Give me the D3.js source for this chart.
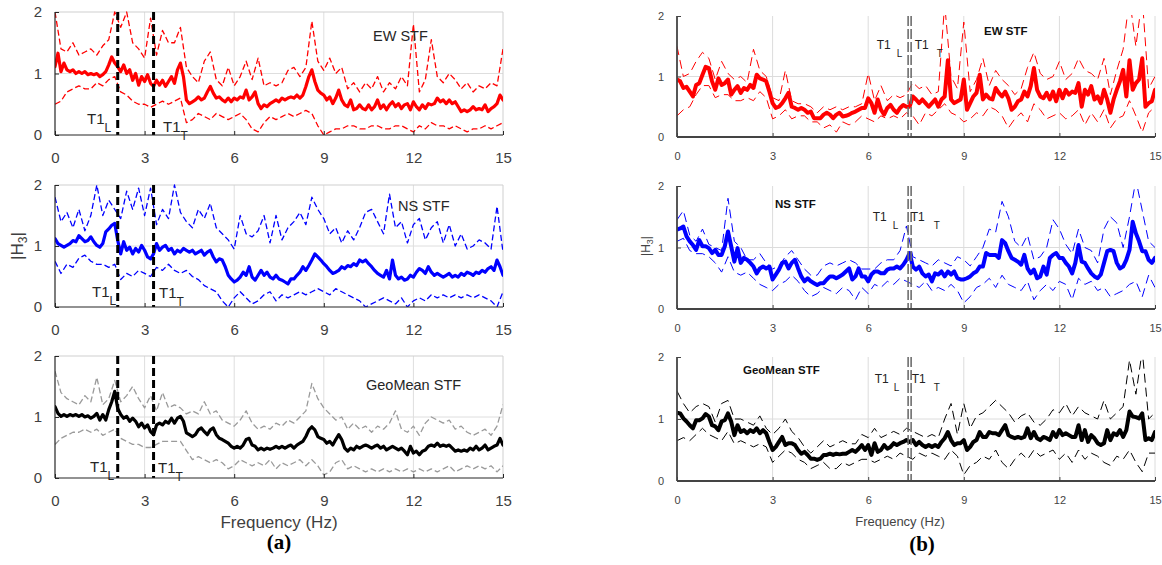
<!DOCTYPE html>
<html><head><meta charset="utf-8">
<script src="https://cdn.jsdelivr.net/npm/d3@7"></script>
<style>body{margin:0;background:#fff}svg{display:block}</style>
</head><body><svg id="c" width="1162" height="565"></svg>
<script>
// ---------- DATA ----------
const fFine = d3.range(151).map(i => +(i * 0.1).toFixed(1));   // 0.1 Hz grid for mean curves
const fCoarse = d3.range(76).map(i => +(i * 0.2).toFixed(1));  // 0.2 Hz grid for bounds
const xTickValues = [0, 3, 6, 9, 12, 15];
const yTickValues = [0, 1, 2];

const ewLeftMean = [1.11,1.33,1.03,1.17,1.06,1.03,1.06,1.00,1.03,1.00,
 1.03,0.98,1.00,0.98,1.00,0.95,0.98,1.03,1.14,1.27,
 1.17,1.11,1.03,1.14,1.00,1.06,0.89,1.00,0.81,0.95,
 0.87,0.98,0.84,0.79,0.89,0.81,0.89,0.79,0.87,0.95,
 0.84,1.06,1.17,0.95,0.57,0.51,0.54,0.57,0.62,0.57,
 0.60,0.70,0.79,0.68,0.60,0.62,0.57,0.54,0.60,0.54,
 0.60,0.57,0.62,0.60,0.73,0.57,0.62,0.70,0.51,0.43,
 0.49,0.46,0.51,0.54,0.57,0.54,0.60,0.57,0.60,0.62,
 0.60,0.65,0.60,0.65,0.79,0.95,1.06,0.87,0.73,0.68,
 0.65,0.57,0.62,0.51,0.60,0.73,0.57,0.49,0.46,0.57,
 0.41,0.43,0.49,0.43,0.41,0.49,0.41,0.46,0.57,0.43,
 0.49,0.41,0.49,0.54,0.46,0.51,0.43,0.49,0.51,0.41,
 0.54,0.46,0.41,0.49,0.43,0.51,0.49,0.51,0.60,0.54,
 0.57,0.51,0.57,0.51,0.54,0.46,0.38,0.41,0.38,0.41,
 0.46,0.41,0.43,0.41,0.49,0.38,0.43,0.46,0.51,0.65,
 0.57];
const ewLeftUp = [2.0,1.4,1.35,1.5,1.3,1.35,1.4,1.3,1.45,1.55,
 2.0,1.75,2.0,1.5,1.4,1.25,1.9,1.3,1.7,1.5,
 1.5,1.75,1.1,0.95,0.85,1.2,1.35,0.9,0.8,1.1,
 0.8,0.95,1.2,0.9,1.25,0.8,0.85,0.8,0.85,1.05,
 1.1,0.95,1.1,1.85,1.2,1.05,1.25,1.0,1.1,0.75,
 0.85,0.7,0.85,0.75,0.95,0.7,0.85,0.75,0.95,0.8,
 1.8,0.7,0.9,1.55,0.95,0.85,1.0,0.9,0.75,0.85,
 0.7,0.8,0.75,0.85,0.8,1.4];
const ewLeftLo = [0.5,0.55,0.7,0.75,0.8,0.75,0.75,0.85,0.8,0.9,
 0.95,0.7,0.65,0.55,0.5,0.5,0.45,0.5,0.55,0.5,
 0.55,0.6,0.2,0.25,0.35,0.3,0.25,0.35,0.3,0.25,
 0.3,0.35,0.25,0.1,0.05,0.2,0.3,0.25,0.3,0.35,
 0.3,0.35,0.4,0.35,0.15,0.0,0.05,0.1,0.1,0.15,
 0.15,0.1,0.1,0.15,0.15,0.1,0.1,0.15,0.15,0.1,
 0.05,0.15,0.1,0.2,0.15,0.15,0.1,0.15,0.1,0.05,
 0.1,0.1,0.15,0.1,0.15,0.2];

const nsLeftMean = [1.12,1.04,1.01,0.98,1.01,1.04,1.09,1.07,1.17,1.12,
 1.07,1.09,1.15,1.07,1.01,0.98,1.04,1.23,1.28,1.34,
 1.37,1.09,0.87,1.07,0.93,0.98,0.87,0.96,0.90,1.01,
 0.93,0.82,0.79,0.87,1.04,0.93,0.98,1.01,0.93,0.96,
 0.87,0.93,0.90,0.96,0.93,0.90,0.93,0.87,0.90,0.93,
 0.85,0.90,0.93,0.82,0.74,0.79,0.77,0.66,0.52,0.46,
 0.41,0.44,0.49,0.57,0.52,0.66,0.49,0.44,0.52,0.60,
 0.52,0.57,0.49,0.46,0.52,0.46,0.44,0.41,0.38,0.46,
 0.46,0.52,0.57,0.66,0.60,0.68,0.77,0.87,0.82,0.77,
 0.71,0.66,0.60,0.55,0.57,0.60,0.66,0.63,0.68,0.66,
 0.71,0.68,0.77,0.74,0.77,0.71,0.66,0.60,0.55,0.52,
 0.49,0.60,0.46,0.77,0.52,0.46,0.49,0.44,0.46,0.52,
 0.49,0.57,0.63,0.60,0.55,0.66,0.57,0.52,0.55,0.52,
 0.49,0.52,0.55,0.49,0.52,0.49,0.55,0.52,0.57,0.55,
 0.52,0.57,0.55,0.60,0.57,0.63,0.66,0.60,0.77,0.66,
 0.52];
const nsLeftUp = [1.8,1.4,1.55,1.3,1.6,1.25,1.5,2.0,1.5,1.75,
 1.6,1.45,1.9,1.6,1.95,1.5,1.95,1.35,1.6,1.45,
 2.0,1.55,1.4,1.3,1.6,1.45,1.7,1.3,1.2,1.1,
 0.95,1.5,1.2,1.15,1.25,1.5,1.05,1.5,1.1,1.3,
 1.4,1.55,1.35,1.8,1.6,1.45,1.2,1.3,1.05,1.25,
 1.1,1.3,1.55,1.6,1.4,1.2,1.85,1.3,1.4,1.05,
 1.35,1.45,1.1,1.3,1.4,1.05,1.35,1.0,1.2,0.95,
 1.0,1.1,1.05,0.95,1.65,0.9];
const nsLeftLo = [0.75,0.55,0.7,0.65,0.8,0.85,0.75,0.7,0.7,0.65,
 0.7,0.45,0.55,0.5,0.6,0.55,0.5,0.65,0.6,0.7,
 0.6,0.55,0.6,0.5,0.45,0.35,0.3,0.25,0.1,0.0,
 0.15,0.25,0.15,0.05,0.1,0.2,0.25,0.1,0.2,0.15,
 0.2,0.25,0.2,0.25,0.3,0.25,0.2,0.3,0.25,0.2,
 0.15,0.1,0.0,0.05,0.1,0.15,0.1,0.05,0.15,0.0,
 0.1,0.15,0.1,0.2,0.15,0.2,0.15,0.2,0.15,0.2,
 0.15,0.2,0.15,0.1,0.0,0.25];

const geoLeftMean = [1.17,1.06,1.01,1.04,1.01,1.04,1.02,1.04,1.01,1.04,
 1.00,1.02,0.98,1.01,1.06,0.95,1.04,0.95,1.12,1.25,
 1.42,1.14,1.04,0.98,1.01,0.93,0.98,0.93,0.84,0.90,
 0.82,0.87,0.76,0.71,0.87,0.90,0.87,0.93,0.90,0.98,
 0.90,0.98,1.01,0.93,0.74,0.71,0.68,0.71,0.79,0.82,
 0.76,0.71,0.79,0.82,0.71,0.65,0.63,0.60,0.57,0.52,
 0.49,0.52,0.49,0.54,0.63,0.65,0.54,0.52,0.46,0.49,
 0.46,0.49,0.47,0.49,0.52,0.49,0.52,0.49,0.52,0.54,
 0.49,0.54,0.57,0.60,0.68,0.79,0.84,0.79,0.68,0.65,
 0.63,0.57,0.60,0.54,0.63,0.71,0.63,0.49,0.44,0.49,
 0.46,0.52,0.49,0.52,0.54,0.52,0.49,0.52,0.54,0.49,
 0.52,0.46,0.49,0.52,0.49,0.46,0.49,0.44,0.38,0.52,
 0.41,0.44,0.38,0.44,0.46,0.52,0.54,0.52,0.57,0.52,
 0.54,0.52,0.54,0.49,0.44,0.46,0.44,0.46,0.44,0.49,
 0.46,0.52,0.46,0.49,0.54,0.46,0.49,0.52,0.54,0.65,
 0.54];
const geoLeftUp = [1.75,1.4,1.3,1.25,1.2,1.35,1.25,1.65,1.2,1.3,
 1.6,1.25,1.35,1.5,1.3,1.15,1.35,1.1,1.4,1.15,
 1.2,1.15,1.05,1.1,1.05,1.25,1.05,1.1,0.95,0.9,
 0.85,0.95,1.1,0.9,0.8,0.85,0.8,0.9,0.85,0.95,
 0.9,1.0,1.1,1.55,1.3,1.15,1.05,0.95,1.0,0.8,
 0.9,0.8,0.85,0.75,0.85,0.8,0.9,1.1,0.8,0.75,
 0.85,0.7,0.9,1.0,0.95,0.9,0.95,0.8,0.85,0.75,
 0.7,0.75,0.8,0.7,0.85,1.2];
const geoLeftLo = [0.55,0.65,0.7,0.75,0.75,0.8,0.75,0.8,0.7,0.75,
 0.8,0.65,0.6,0.55,0.55,0.5,0.5,0.55,0.6,0.6,
 0.6,0.6,0.45,0.3,0.35,0.3,0.25,0.3,0.25,0.15,
 0.2,0.3,0.25,0.2,0.25,0.2,0.3,0.15,0.25,0.2,
 0.25,0.3,0.2,0.3,0.2,0.05,0.1,0.25,0.3,0.15,
 0.2,0.15,0.1,0.15,0.1,0.15,0.1,0.15,0.1,0.15,
 0.1,0.15,0.1,0.15,0.1,0.15,0.2,0.1,0.15,0.2,
 0.15,0.2,0.15,0.2,0.1,0.2];

const ewRightMean = [0.95,0.92,0.81,0.83,0.75,0.67,0.86,0.89,1.03,1.16,
 1.14,0.92,0.78,0.97,0.86,0.89,0.95,0.70,0.78,0.84,
 0.73,0.81,0.78,0.86,0.81,1.03,0.97,0.95,0.92,0.75,
 0.56,0.48,0.50,0.56,0.64,0.73,0.50,0.48,0.45,0.48,
 0.45,0.40,0.42,0.31,0.31,0.31,0.37,0.40,0.37,0.31,
 0.37,0.40,0.34,0.35,0.37,0.40,0.42,0.45,0.48,0.48,
 0.64,0.56,0.40,0.62,0.45,0.37,0.48,0.53,0.45,0.40,
 0.48,0.53,0.50,0.50,0.67,0.62,0.56,0.62,0.56,0.50,
 0.56,0.62,0.50,0.62,0.67,1.27,0.62,0.56,0.59,0.62,
 0.95,0.45,0.56,0.67,0.73,1.03,0.62,0.70,0.64,0.62,
 0.81,0.73,0.67,0.75,0.64,0.45,0.50,0.59,0.62,0.75,
 0.67,0.84,1.14,0.78,0.67,0.64,0.73,0.62,0.75,0.59,
 0.78,0.64,0.78,0.70,0.75,0.73,0.89,0.50,0.78,0.70,
 0.84,0.62,0.67,0.56,0.78,0.62,0.40,0.62,0.78,0.92,
 1.11,0.67,1.27,0.78,0.89,0.95,1.30,0.50,0.56,0.59,
 0.78];
const ewRightUp = [1.5,1.0,1.05,1.25,1.4,1.3,0.95,1.25,1.05,0.95,
 1.0,0.9,1.45,1.1,1.0,0.65,0.6,1.1,0.6,0.55,
 0.55,0.5,0.4,0.5,0.45,0.5,0.45,0.5,0.5,0.55,
 1.05,0.6,0.85,0.6,0.7,0.65,0.7,0.9,0.8,0.85,
 0.7,0.75,2.2,1.0,0.8,1.9,0.75,0.95,1.3,0.85,
 1.1,0.95,0.85,0.7,0.8,1.15,1.4,1.05,0.95,1.0,
 1.25,0.95,1.05,1.3,1.1,1.05,0.95,1.3,0.7,1.1,
 1.45,2.3,1.5,2.3,0.8,1.0];
const ewRightLo = [0.35,0.45,0.5,0.7,0.85,0.85,0.65,0.7,0.7,0.6,
 0.6,0.65,0.6,0.75,0.65,0.3,0.35,0.45,0.3,0.35,
 0.35,0.25,0.25,0.15,0.2,0.08,0.25,0.2,0.25,0.35,
 0.3,0.25,0.35,0.3,0.35,0.3,0.4,0.35,0.2,0.4,
 0.35,0.45,0.55,0.4,0.35,0.25,0.3,0.4,0.35,0.5,
 0.45,0.35,0.15,0.3,0.4,0.25,0.55,0.45,0.3,0.35,
 0.4,0.3,0.35,0.45,0.2,0.4,0.25,0.45,0.15,0.3,
 0.35,0.6,0.35,0.08,0.4,0.5];

const nsRightMean = [1.29,1.31,1.34,1.18,1.10,1.04,0.96,1.12,1.02,1.02,
 0.99,0.91,0.96,0.88,0.88,1.02,1.26,1.02,0.77,0.99,
 0.75,0.83,0.80,0.75,0.69,0.58,0.66,0.69,0.66,0.69,
 0.48,0.56,0.64,0.75,0.77,0.66,0.75,0.80,0.66,0.53,
 0.45,0.50,0.45,0.42,0.39,0.42,0.42,0.48,0.53,0.53,
 0.50,0.53,0.56,0.61,0.66,0.48,0.53,0.66,0.53,0.53,
 0.45,0.56,0.61,0.61,0.58,0.58,0.64,0.66,0.66,0.69,
 0.66,0.72,0.80,0.91,0.69,0.64,0.69,0.58,0.53,0.56,
 0.45,0.58,0.56,0.61,0.53,0.61,0.56,0.61,0.50,0.48,
 0.48,0.50,0.53,0.58,0.61,0.69,0.69,0.91,0.88,0.88,
 0.88,0.83,1.12,1.07,0.94,0.83,0.80,0.77,0.72,0.88,
 0.66,0.58,0.64,0.50,0.53,0.69,0.56,0.83,0.88,0.91,
 0.83,0.83,0.75,0.69,0.58,0.75,1.04,0.77,0.75,0.66,
 0.58,0.53,0.50,0.56,0.75,0.94,0.96,0.94,0.75,0.66,
 0.69,0.80,0.96,1.42,1.23,1.10,0.94,0.94,0.80,0.75,
 0.83];
const nsRightUp = [1.45,1.6,1.2,1.1,1.3,1.05,1.0,0.95,1.8,1.1,
 1.0,0.8,0.8,0.9,0.75,0.65,0.7,0.85,0.95,0.8,
 0.65,0.55,0.55,0.7,0.75,0.7,0.75,0.8,0.75,0.65,
 0.65,0.65,0.75,0.8,0.8,0.95,1.35,0.85,0.8,0.75,
 0.7,0.8,0.75,0.7,0.85,0.8,0.7,0.85,1.0,1.3,
 1.25,1.75,1.5,1.1,1.0,1.2,0.8,0.85,1.0,1.45,
 1.3,1.05,0.9,1.3,1.0,0.95,0.75,1.3,1.5,1.4,
 1.0,1.5,2.1,1.6,1.1,1.0];
const nsRightLo = [1.1,1.15,0.95,0.9,0.9,0.85,0.75,0.6,0.85,0.6,
 0.55,0.6,0.5,0.4,0.35,0.3,0.4,0.45,0.55,0.45,
 0.3,0.2,0.25,0.35,0.3,0.25,0.35,0.3,0.15,0.35,
 0.25,0.4,0.35,0.45,0.4,0.5,0.45,0.4,0.35,0.45,
 0.3,0.35,0.3,0.4,0.3,0.1,0.2,0.35,0.4,0.5,
 0.35,0.55,0.4,0.35,0.3,0.45,0.15,0.3,0.4,0.3,
 0.45,0.4,0.15,0.5,0.4,0.45,0.3,0.35,0.2,0.25,
 0.3,0.4,0.45,0.2,0.55,0.35];

const geoRightMean = [1.10,1.09,1.01,0.96,0.90,0.85,0.98,0.98,1.01,1.08,
 1.04,0.90,0.88,0.82,0.96,0.98,1.09,0.96,0.74,0.90,
 0.79,0.82,0.77,0.82,0.79,0.85,0.77,0.82,0.77,0.63,
 0.50,0.55,0.63,0.71,0.58,0.61,0.61,0.58,0.50,0.44,
 0.47,0.42,0.36,0.36,0.34,0.36,0.42,0.42,0.44,0.42,
 0.44,0.43,0.44,0.44,0.47,0.50,0.47,0.52,0.58,0.50,
 0.58,0.42,0.61,0.47,0.50,0.58,0.52,0.55,0.61,0.58,
 0.61,0.63,0.66,0.63,0.66,0.58,0.63,0.58,0.55,0.58,
 0.55,0.58,0.55,0.63,0.69,0.79,0.66,0.58,0.61,0.61,
 0.66,0.50,0.55,0.63,0.66,0.79,0.71,0.71,0.79,0.77,
 0.77,0.74,0.82,0.90,0.74,0.71,0.69,0.71,0.69,0.71,
 0.85,0.69,0.79,0.69,0.66,0.71,0.69,0.66,0.79,0.71,
 0.82,0.74,0.77,0.74,0.71,0.71,0.90,0.66,0.82,0.63,
 0.74,0.69,0.61,0.58,0.61,0.82,0.66,0.77,0.74,0.82,
 0.71,0.82,1.12,1.04,1.03,1.01,1.09,0.66,0.69,0.66,
 0.79];
const geoRightUp = [1.45,1.25,1.1,1.2,1.25,1.2,0.95,1.25,1.3,1.0,
 1.0,0.95,0.9,1.05,0.85,0.75,0.85,1.0,0.8,0.7,
 0.55,0.45,0.55,0.65,0.55,0.6,0.65,0.6,0.6,0.75,
 0.7,0.85,0.7,0.75,0.8,0.75,0.85,0.8,0.75,0.7,
 0.75,0.7,1.0,1.25,0.75,1.25,0.85,1.05,1.1,1.2,
 1.3,1.2,1.1,0.95,1.05,1.1,0.95,0.9,1.0,1.15,
 1.1,1.25,1.05,1.2,1.1,1.05,1.0,1.3,1.0,1.1,
 1.2,1.95,1.4,2.1,1.0,1.1];
const geoRightLo = [0.65,0.7,0.65,0.75,0.85,0.75,0.7,0.65,0.8,0.6,
 0.65,0.6,0.55,0.6,0.55,0.3,0.4,0.5,0.45,0.35,
 0.3,0.2,0.25,0.3,0.2,0.2,0.3,0.25,0.3,0.35,
 0.35,0.3,0.35,0.4,0.35,0.45,0.4,0.35,0.45,0.4,
 0.45,0.4,0.35,0.5,0.4,0.1,0.25,0.3,0.4,0.35,
 0.5,0.3,0.2,0.35,0.45,0.35,0.5,0.4,0.45,0.5,
 0.35,0.45,0.3,0.5,0.35,0.45,0.4,0.3,0.25,0.4,
 0.35,0.5,0.3,0.15,0.45,0.45];

const leftPeriods = [2.1, 3.3];   // T1_L, T1_T (Hz), panel (a)
const rightPeriod = 7.3;          // T1_L ≈ T1_T (Hz), panel (b)
const titles = ["EW STF", "NS STF", "GeoMean STF"];

// ---------- LAYOUT ----------
const svg = d3.select("#c");
const FONT = "'Liberation Sans', Arial, Helvetica, sans-serif";

const leftRows = [[12,135],[185,307],[356,478]];
const rightRows = [[16,137],[186,309],[357,481]];

const panels = [
 {side:"L", x0:55, x1:503, row:leftRows[0], mean:ewLeftMean, up:ewLeftUp, lo:ewLeftLo, col:"#ff0000", bcol:"#ff0000", title:titles[0], tx:373, ty:41,
  lab:{lx:87, ly:124, tx:163, ty:132}},
 {side:"L", x0:55, x1:503, row:leftRows[1], mean:nsLeftMean, up:nsLeftUp, lo:nsLeftLo, col:"#0000ff", bcol:"#0000ff", title:titles[1], tx:398, ty:211,
  lab:{lx:92, ly:297, tx:159, ty:298}},
 {side:"L", x0:55, x1:503, row:leftRows[2], mean:geoLeftMean, up:geoLeftUp, lo:geoLeftLo, col:"#000000", bcol:"#9a9a9a", title:titles[2], tx:366, ty:390,
  lab:{lx:90, ly:472, tx:158, ty:473}},
 {side:"R", x0:677, x1:1155, row:rightRows[0], mean:ewRightMean, up:ewRightUp, lo:ewRightLo, col:"#ff0000", bcol:"#ff0000", title:titles[0], tx:984, ty:35,
  lab:{a:49, b:57, dx:[-33,-13,5,27]}},
 {side:"R", x0:677, x1:1155, row:rightRows[1], mean:nsRightMean, up:nsRightUp, lo:nsRightLo, col:"#0000ff", bcol:"#0000ff", title:titles[1], tx:775, ty:208,
  lab:{a:221, b:229, dx:[-37,-17,1,24]}},
 {side:"R", x0:677, x1:1155, row:rightRows[2], mean:geoRightMean, up:geoRightUp, lo:geoRightLo, col:"#000000", bcol:"#000000", title:titles[2], tx:743, ty:374,
  lab:{a:383, b:391, dx:[-35,-16,2,24]}}
];

panels.forEach((p, i) => {
  const L = p.side === "L";
  const [y0, y1] = p.row;
  const x = d3.scaleLinear().domain([0, 15]).range([p.x0, p.x1]);
  const y = d3.scaleLinear().domain([0, 2]).range([y1, y0]);
  const g = svg.append("g");
  const cid = "clip" + i;
  svg.append("clipPath").attr("id", cid).append("rect")
    .attr("x", p.x0).attr("y", y0 - 1).attr("width", p.x1 - p.x0).attr("height", y1 - y0 + 1);

  // grid
  const gridCol = L ? "#dedede" : "#dcdcdc";
  g.selectAll(".gx").data(L ? [3,6,9,12] : [3,6,9,12,15]).join("line")
    .attr("x1", d => x(d)).attr("x2", d => x(d)).attr("y1", y0).attr("y2", y1)
    .attr("stroke", gridCol).attr("stroke-width", 1);
  g.append("line").attr("x1", p.x0).attr("x2", p.x1).attr("y1", y(1)).attr("y2", y(1))
    .attr("stroke", gridCol).attr("stroke-width", 1);
  if (L) {
    g.append("line").attr("x1", p.x0).attr("x2", p.x1).attr("y1", y0).attr("y2", y0).attr("stroke", "#cfcfcf");
    g.append("line").attr("x1", p.x1).attr("x2", p.x1).attr("y1", y0).attr("y2", y1).attr("stroke", "#cfcfcf");
  }

  const plot = g.append("g").attr("clip-path", `url(#${cid})`);
  const lineC = d3.line().x((d, k) => x(fCoarse[k])).y(d => y(d));
  const lineF = d3.line().x((d, k) => x(fFine[k])).y(d => y(d));

  [p.up, p.lo].forEach(arr => {
    plot.append("path").attr("d", lineC(arr)).attr("fill", "none")
      .attr("stroke", p.bcol)
      .attr("stroke-width", L ? 1.3 : 1)
      .attr("stroke-dasharray", L ? "6,3" : "9,5")
      .attr("stroke-linejoin", "round");
  });
  plot.append("path").attr("d", lineF(p.mean)).attr("fill", "none")
    .attr("stroke", p.col).attr("stroke-width", L ? 3.2 : 4)
    .attr("stroke-linejoin", "round").attr("stroke-linecap", "round");

  // period lines
  if (L) {
    leftPeriods.forEach(f => {
      g.append("line").attr("x1", x(f)).attr("x2", x(f)).attr("y1", y(2)).attr("y2", y(0))
        .attr("stroke", "#000").attr("stroke-width", 3).attr("stroke-dasharray", "8,4");
    });
  } else {
    [-1.5, 1.5].forEach(o => {
      g.append("line").attr("x1", x(rightPeriod) + o).attr("x2", x(rightPeriod) + o)
        .attr("y1", y(2)).attr("y2", y(0))
        .attr("stroke", "#6e6e6e").attr("stroke-width", 1.6).attr("stroke-dasharray", "10,3");
    });
  }

  // axes lines
  const axCol = L ? "#262626" : "#444";
  g.append("line").attr("x1", p.x0).attr("x2", p.x1).attr("y1", y1).attr("y2", y1).attr("stroke", axCol).attr("stroke-width", L ? 1.2 : 1.8);
  g.append("line").attr("x1", p.x0).attr("x2", p.x0).attr("y1", y0).attr("y2", y1).attr("stroke", axCol).attr("stroke-width", L ? 1.2 : 1.8);

  const fs = L ? 15 : 11;
  const tcol = L ? "#404040" : "#444";
  const ax = g.append("g").attr("transform", `translate(0,${y1})`)
    .call(d3.axisBottom(x).tickValues(xTickValues).tickFormat(d3.format("d")).tickSizeInner(-4).tickSizeOuter(0).tickPadding(L ? 17 : 15));
  const ay = g.append("g").attr("transform", `translate(${p.x0},0)`)
    .call(d3.axisLeft(y).tickValues(yTickValues).tickFormat(d3.format("d")).tickSizeInner(-4).tickSizeOuter(0).tickPadding(13));
  [ax, ay].forEach(a => {
    a.select(".domain").remove();
    a.selectAll(".tick line").attr("stroke", axCol);
    a.selectAll("text").attr("fill", tcol).style("font-family", FONT).style("font-size", fs + "px");
  });

  // title
  g.append("text").attr("x", p.tx).attr("y", p.ty).text(p.title)
    .style("font-family", FONT).style("font-size", L ? "14.5px" : "11.5px")
    .style("font-weight", L ? "normal" : "bold").attr("fill", L ? "#262626" : "#111");

  // T1 labels
  if (L) {
    const mk = (xx, yy, sub) => {
      const t = g.append("text").attr("x", xx).attr("y", yy)
        .style("font-family", FONT).style("font-size", "15px").attr("fill", "#262626");
      t.append("tspan").text("T1");
      t.append("tspan").attr("dy", 8).style("font-size", "12px").text(sub);
    };
    mk(p.lab.lx, p.lab.ly, "L");
    mk(p.lab.tx, p.lab.ty, "T");
  } else {
    const xp = x(rightPeriod);
    const items = [["T1", p.lab.a, 12], ["L", p.lab.b, 10], ["T1", p.lab.a, 12], ["T", p.lab.b, 10]];
    items.forEach((it, k) => {
      g.append("text").attr("x", xp + p.lab.dx[k]).attr("y", it[1]).text(it[0])
        .style("font-family", FONT).style("font-size", it[2] + "px").attr("fill", "#222");
    });
  }
});

// axis titles
svg.append("text").attr("transform", "translate(23,246) rotate(-90)").attr("text-anchor", "middle")
  .style("font-family", FONT).style("font-size", "17px").attr("fill", "#404040")
  .call(t => { t.append("tspan").text("|H"); t.append("tspan").attr("dy", 4).style("font-size", "12px").text("3"); t.append("tspan").attr("dy", -4).text("|"); });
svg.append("text").attr("transform", "translate(650,246) rotate(-90)").attr("text-anchor", "middle")
  .style("font-family", FONT).style("font-size", "12px").attr("fill", "#444")
  .call(t => { t.append("tspan").text("|H"); t.append("tspan").attr("dy", 3).style("font-size", "9px").text("3"); t.append("tspan").attr("dy", -3).text("|"); });

svg.append("text").attr("x", 279).attr("y", 528).attr("text-anchor", "middle").text("Frequency (Hz)")
  .style("font-family", FONT).style("font-size", "17px").attr("fill", "#404040");
svg.append("text").attr("x", 900).attr("y", 526).attr("text-anchor", "middle").text("Frequency (Hz)")
  .style("font-family", FONT).style("font-size", "13px").attr("fill", "#444");

svg.append("text").attr("x", 279).attr("y", 549).attr("text-anchor", "middle").text("(a)")
  .style("font-family", "'Liberation Serif', 'Times New Roman', serif").style("font-size", "21px").style("font-weight", "bold");
svg.append("text").attr("x", 922).attr("y", 551).attr("text-anchor", "middle").text("(b)")
  .style("font-family", "'Liberation Serif', 'Times New Roman', serif").style("font-size", "21px").style("font-weight", "bold");
</script></body></html>
